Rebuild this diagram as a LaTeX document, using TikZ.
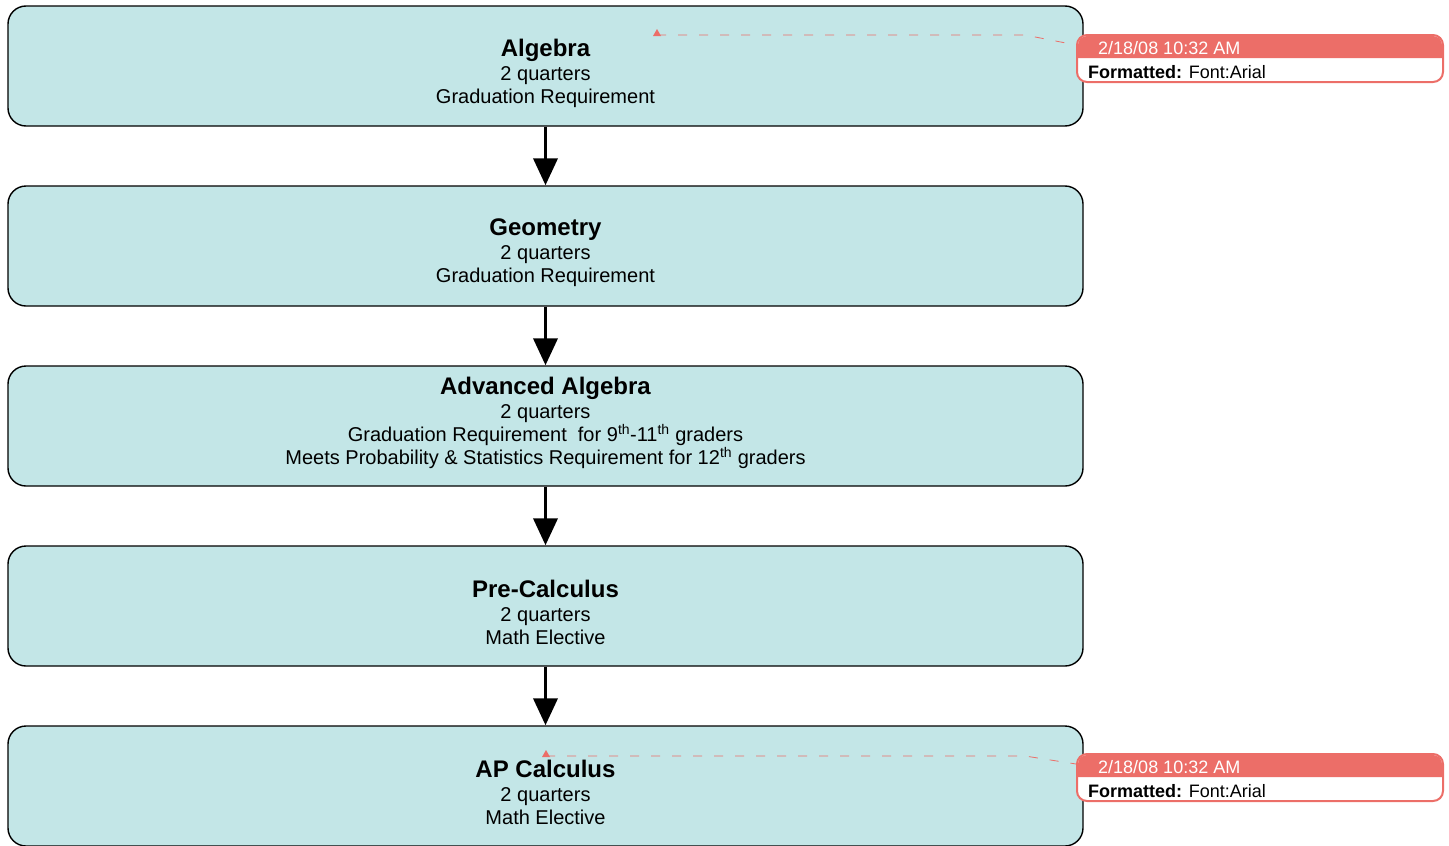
\documentclass[tikz,border=0pt]{standalone}
\usepackage{fontspec}
\setmainfont{Liberation Sans}
\usetikzlibrary{arrows.meta}

\definecolor{coursefill}{RGB}{195,230,231}
\definecolor{notered}{RGB}{236,110,104}

\tikzset{
  course/.style={draw=black, line width=1.4pt, fill=coursefill, rounded corners=18pt,
    minimum width=1075pt, minimum height=120pt, inner sep=0pt},
  coursetext/.style={align=center, font=\fontsize{20}{23}\selectfont, inner sep=0pt},
  prereq/.style={line width=3.8pt, -{Triangle[width=24pt,length=27pt]}},
  notebody/.style={draw=notered, line width=2pt, fill=white, rounded corners=10pt,
    minimum width=366pt, minimum height=47pt, inner sep=0pt},
  notetext/.style={font=\fontsize{18}{20}\selectfont, inner sep=0pt, anchor=base west},
  notelink/.style={draw=notered, line width=0.8pt, dash pattern=on 9pt off 12pt}
}
\newcommand{\ctitle}[1]{{\fontsize{24}{25}\selectfont\bfseries #1}\\[1pt]}

\begin{document}
\begin{tikzpicture}[x=1pt,y=-1pt]
\useasboundingbox (0,0) rectangle (1449,846);

% course boxes
\node[course] (alg) at (545.5,66) {};
\node[course] (geo) at (545.5,246) {};
\node[course] (advalg) at (545.5,426) {};
\node[course] (precalc) at (545.5,606) {};
\node[course] (apcalc) at (545.5,786) {};

\node[coursetext] (algtext) at (545.5,73) {\ctitle{Algebra}2 quarters\\Graduation Requirement};
\node[coursetext] (geotext) at (545.5,253) {\ctitle{Geometry}2 quarters\\Graduation Requirement};
\node[coursetext] (advalgtext) at (545.5,423) {\ctitle{Advanced Algebra}2 quarters\\
  Graduation Requirement~ for 9\textsuperscript{th}-11\textsuperscript{th} graders\\
  Meets Probability \& Statistics Requirement for 12\textsuperscript{th} graders};
\node[coursetext] (precalctext) at (545.5,612) {\ctitle{Pre-Calculus}2 quarters\\Math Elective};
\node[coursetext] (apcalctext) at (545.5,792) {\ctitle{AP Calculus}2 quarters\\Math Elective};

% sequence
\foreach \a/\b in {alg/geo, geo/advalg, advalg/precalc, precalc/apcalc}
  \draw[prereq] (\a.south) -- (\b.north);

% revision notes
\foreach \n/\y/\mx/\my in {1/35/657/35, 2/754/546/756} {
  \node[notebody] (note\n) at (1260,\y+23.5) {};
  \fill[notered] (1078,\y+23) {[rounded corners=9pt] -- (1078,\y+1) -- (1442,\y+1)} -- (1442,\y+23) -- cycle;
  \node[notetext, text=white] (note\n date) at (1098,\y+19) {2/18/08 10:32 AM};
  \node[notetext] (note\n fmt) at (1088,\y+43) {\textbf{Formatted:} Font:Arial};
  \coordinate (mark\n) at (\mx,\my);
  \coordinate (bend\n) at (1025,\my);
  \fill[notered] (mark\n) ++(-4,1) -- ++(4,-7) -- ++(4,7) -- cycle;
  \draw[notelink] (mark\n) -- (bend\n) -- (note\n.west |- 0,\y+10);
}
\end{tikzpicture}
\end{document}
